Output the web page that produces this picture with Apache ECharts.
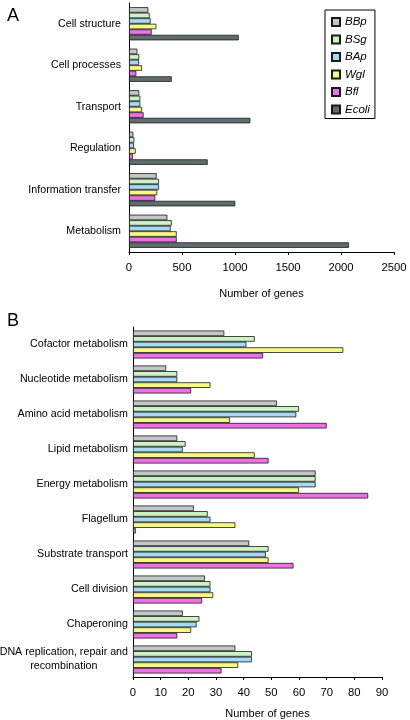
<!DOCTYPE html>
<html><head><meta charset="utf-8">
<script src="https://cdn.jsdelivr.net/npm/echarts@6/dist/echarts.min.js"></script>
<style>html,body{margin:0;padding:0;background:#fff}#c{width:410px;height:720px}</style>
</head><body><div id="c"></div>
<script>
// Panel A
var catsA = ['Cell structure','Cell processes','Transport','Regulation','Information transfer','Metabolism'];
var A_BBp  = [182, 79, 97, 41, 261, 362];
var A_BSg  = [195, 97, 107, 50, 283, 403];
var A_BAp  = [204, 95, 107, 47, 283, 393];
var A_Wgl  = [258, 123, 123, 63, 267, 450];
var A_Bfl  = [214, 69, 138, 37, 248, 450];
var A_Ecoli= [1035, 403, 1145, 742, 1003, 2075];
var ticksA = {min:0, max:2500, interval:500};
// Panel B
var catsB = ['Cofactor metabolism','Nucleotide metabolism','Amino acid metabolism','Lipid metabolism','Energy metabolism','Flagellum','Substrate transport','Cell division','Chaperoning','DNA replication, repair and\nrecombination'];
var B_BBp = [33, 12, 52, 16, 66, 22, 42, 26, 18, 37];
var B_BSg = [44, 16, 60, 19, 66, 27, 49, 28, 24, 43];
var B_BAp = [41, 16, 59, 18, 66, 28, 48, 28, 23, 43];
var B_Wgl = [76, 28, 35, 44, 60, 37, 49, 29, 21, 38];
var B_Bfl = [47, 21, 70, 49, 85, 1, 58, 25, 16, 32];
var ticksB = {min:0, max:90, interval:10};
var seriesNames = ['BBp','BSg','BAp','Wgl','Bfl','Ecoli'];

var colors = {BBp:'#c3c7c7', BSg:'#cdf2c4', BAp:'#a6daf2', Wgl:'#f8f884', Bfl:'#ee6fe6', Ecoli:'#5f6d6d'};
var font = 'Liberation Sans, Arial, sans-serif';
var fs = 10.7;

function mk(name, data, idx){
  return {
    name: name, type: 'bar', data: data, xAxisIndex: idx, yAxisIndex: idx,
    barGap: '0%', barCategoryGap: '20%',
    itemStyle: {color: colors[name], borderColor: '#1a1a1a', borderWidth: 0.8},
    emphasis: {disabled: true}, animation: false
  };
}
var series = [
  mk('BBp', A_BBp, 0), mk('BSg', A_BSg, 0), mk('BAp', A_BAp, 0),
  mk('Wgl', A_Wgl, 0), mk('Bfl', A_Bfl, 0), mk('Ecoli', A_Ecoli, 0),
  mk('BBp', B_BBp, 1), mk('BSg', B_BSg, 1), mk('BAp', B_BAp, 1),
  mk('Wgl', B_Wgl, 1), mk('Bfl', B_Bfl, 1)
];

function xAx(idx, t, nameGap, namePad){
  return {
    type:'value', gridIndex: idx, min:t.min, max:t.max, interval:t.interval,
    name:'Number of genes', nameLocation:'middle', nameGap:nameGap,
    nameTextStyle:{fontFamily:font, fontSize:11, color:'#000', padding:namePad},
    axisLine:{show:true, lineStyle:{color:'#000', width:1}},
    axisTick:{show:true, length:3, lineStyle:{color:'#000'}},
    axisLabel:{fontFamily:font, fontSize:11.3, color:'#000', margin:10,
      formatter:function(v){ return String(v); }},
    splitLine:{show:false}
  };
}
function yAx(idx, cats, margin){
  return {
    type:'category', gridIndex: idx, data: cats, inverse:true,
    axisLine:{show:true, lineStyle:{color:'#000', width:1}},
    axisTick:{show:false},
    axisLabel:{fontFamily:font, fontSize:fs, color:'#000', margin:margin, lineHeight:14,
      formatter:function(v){
        if (v.indexOf('\n')>=0){ return v.split('\n').map(function(s){return '{c|'+s+'}';}).join('\n'); }
        return v;
      },
      rich:{c:{fontFamily:font, fontSize:fs, color:'#000', align:'center', lineHeight:14}}
    }
  };
}

var chart = echarts.init(document.getElementById('c'), null, {renderer:'canvas'});
chart.setOption({
  animation:false,
  backgroundColor:'#fff',
  title:[
    {text:'A', left:2, top:2, textStyle:{fontFamily:font, fontSize:18, fontWeight:'normal', color:'#000'}},
    {text:'B', left:2, top:307, textStyle:{fontFamily:font, fontSize:18, fontWeight:'normal', color:'#000'}}
  ],
  legend:{
    data: seriesNames, orient:'vertical', left:325, top:10,
    backgroundColor:'#fff', borderColor:'#000', borderWidth:1,
    padding:[6,5,3,6], itemWidth:8, itemHeight:8, itemGap:5.5, icon:'rect',
    textStyle:{fontFamily:font, fontSize:11.5, fontStyle:'italic', color:'#000'},
    selectedMode:false
  },
  grid:[
    {left:129, right:16, top:3, height:249, outerBoundsMode:'none', containLabel:false},
    {left:133, right:28, top:327, height:350, outerBoundsMode:'none', containLabel:false}
  ],
  xAxis:[xAx(0, ticksA, 36, [0,0,0,0]), xAx(1, ticksB, 31, [0,0,0,20])],
  yAxis:[yAx(0, catsA, 8), yAx(1, catsB, 5)],
  series: series
});
</script></body></html>
